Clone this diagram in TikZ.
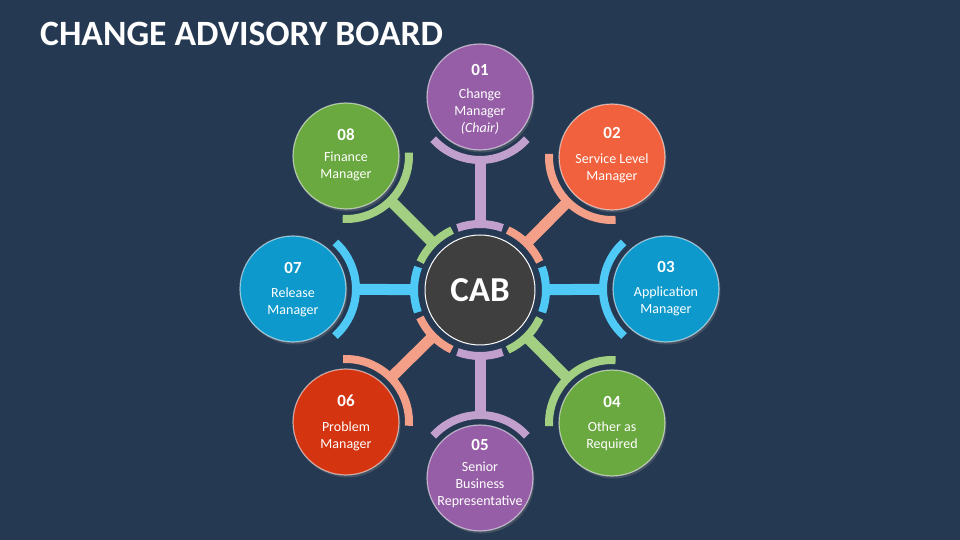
\documentclass[tikz,border=0pt]{standalone}
\usepackage{fontspec}
\setmainfont{Carlito}
\usetikzlibrary{calc,shadows}
\definecolor{bgc}{HTML}{253952}
\definecolor{purp}{HTML}{965EA6}
\definecolor{purpL}{HTML}{C1A0CE}
\definecolor{oran}{HTML}{F1613D}
\definecolor{salm}{HTML}{F4A088}
\definecolor{blu}{HTML}{0D99CC}
\definecolor{cyanL}{HTML}{4FC9F5}
\definecolor{grn}{HTML}{6AA840}
\definecolor{grnL}{HTML}{A3CF82}
\definecolor{redd}{HTML}{D43410}
\definecolor{cabc}{HTML}{3F3F3F}
\tikzset{
 member/.style={circle, minimum size=106pt, inner sep=0pt, fill=#1, draw=white, draw opacity=0.55, line width=1.2pt,
   drop shadow={shadow xshift=1.5pt, shadow yshift=-2.5pt, opacity=0.35}},
 numtxt/.style={text=white, font=\fontsize{17}{20}\selectfont\bfseries, inner sep=0pt},
 labtxt/.style={text=white, font=\fontsize{14}{17}\selectfont, align=center, inner sep=0pt},
 linkbar/.style={line width=11pt, draw=#1},
 linkarc/.style={line width=8pt, draw=#1},
}
\newcommand\cabspoke[2]{%
  \draw[linkbar=#2] ($(cab)!66pt!(#1)$) -- ($(#1)!62pt!(cab)$);
  \draw[linkarc=#2] let \p1=($(#1)-(cab)$), \n1={atan2(\y1,\x1)} in
    ($(cab)+({\n1-20}:66pt)$) arc[start angle=\n1-20, end angle=\n1+20, radius=66pt];
  \draw[linkarc=#2] let \p1=($(cab)-(#1)$), \n1={atan2(\y1,\x1)} in
    ($(#1)+({\n1-48}:63pt)$) arc[start angle=\n1-48, end angle=\n1+48, radius=63pt];
}
\begin{document}
\begin{tikzpicture}[x=1pt,y=1pt]
\fill[bgc] (0,0) rectangle (960,540);
\useasboundingbox (0,0) rectangle (960,540);

\node[text=white, font=\fontsize{35.6}{40}\selectfont\bfseries, anchor=base west, inner sep=0pt] (title) at (40,494) {CHANGE ADVISORY BOARD};

\node[circle, minimum size=110pt, inner sep=0pt, fill=cabc, draw=white, line width=1pt,
  text=white, font=\fontsize{35}{40}\selectfont\bfseries] (cab) at (480,250) {CAB};

\node[member=purp] (m1) at (480,443) {};
\node[member=oran] (m2) at (612,383) {};
\node[member=blu]  (m3) at (666,251) {};
\node[member=grn]  (m4) at (612,117) {};
\node[member=purp] (m5) at (480,62) {};
\node[member=redd] (m6) at (346,118) {};
\node[member=blu]  (m7) at (293,251) {};
\node[member=grn]  (m8) at (346,384) {};

\node[numtxt] (n1) at (480,470) {01};
\node[labtxt] (l1) at (480,428.5) {Change\\Manager\\\textit{(Chair)}};
\node[numtxt] (n2) at (612,407) {02};
\node[labtxt] (l2) at (612,371.5) {Service Level\\Manager};
\node[numtxt] (n3) at (666,273) {03};
\node[labtxt] (l3) at (666,238.5) {Application\\Manager};
\node[numtxt] (n4) at (612,138) {04};
\node[labtxt] (l4) at (612,103.5) {Other as\\Required};
\node[numtxt] (n5) at (480,95) {05};
\node[labtxt] (l5) at (480,55) {Senior\\Business\\Representative};
\node[numtxt] (n6) at (346,139) {06};
\node[labtxt] (l6) at (346,103.5) {Problem\\Manager};
\node[numtxt] (n7) at (293,272) {07};
\node[labtxt] (l7) at (293,237.5) {Release\\Manager};
\node[numtxt] (n8) at (346,405) {08};
\node[labtxt] (l8) at (346,373.5) {Finance\\Manager};

\cabspoke{m1}{purpL}
\cabspoke{m2}{salm}
\cabspoke{m3}{cyanL}
\cabspoke{m4}{grnL}
\cabspoke{m5}{purpL}
\cabspoke{m6}{salm}
\cabspoke{m7}{cyanL}
\cabspoke{m8}{grnL}
\end{tikzpicture}
\end{document}
